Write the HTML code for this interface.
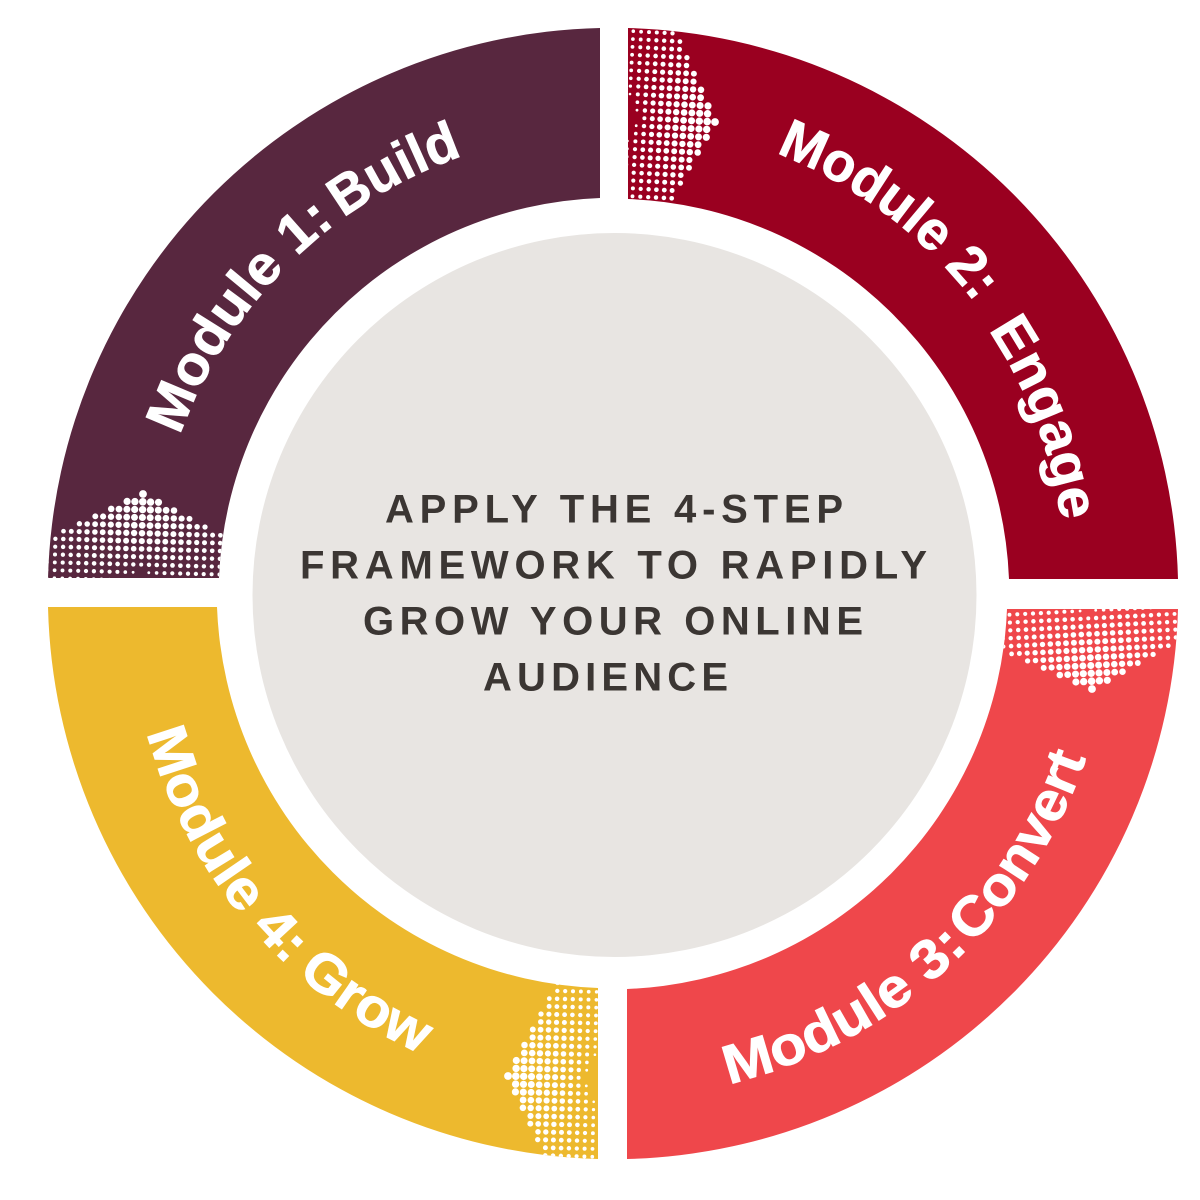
<!DOCTYPE html>
<html><head><meta charset="utf-8"><style>
html,body{margin:0;padding:0;background:#fff}
svg{display:block}
text{font-family:"Liberation Sans",sans-serif;font-weight:700}
.m{fill:#fff;stroke:#fff;stroke-width:.8px;font-size:55px}
.c{fill:#3b3633;font-size:40px}
</style></head><body>
<svg id="s" width="1200" height="1200" viewBox="0 0 1200 1200" xmlns="http://www.w3.org/2000/svg">
<defs>
<clipPath id="c1"><path d="M48 578A565.5 565.5 0 0 1 600 28V198A396 396 0 0 0 219 578Z"/></clipPath>
<clipPath id="c2"><path d="M628 28A565.5 565.5 0 0 1 1178 579H1009A396 396 0 0 0 628 199Z"/></clipPath>
<clipPath id="c3"><path d="M1178 609A565.5 565.5 0 0 1 627 1159V989A396 396 0 0 0 1007 609Z"/></clipPath>
<clipPath id="c4"><path d="M598 1159A565.5 565.5 0 0 1 48 607H217A396 396 0 0 0 598 988Z"/></clipPath>
<path id="t1" d="M180 435.5A462 462 0 0 1 574 132"/>
<path id="t2" d="M776 153A462 462 0 0 1 1070 583.7"/>
<path id="t2b" d="M771 155.5A462 462 0 0 1 1066 586.2"/>
<path id="t3" d="M729 1084A504 504 0 0 0 1111.5 638"/>
<path id="t4" d="M147 733A495 495 0 0 0 497 1081"/>
</defs>
<path fill="#58273f" d="M48 578A565.5 565.5 0 0 1 600 28V198A396 396 0 0 0 219 578Z"/>
<path fill="#9a0020" d="M628 28A565.5 565.5 0 0 1 1178 579H1009A396 396 0 0 0 628 199Z"/>
<path fill="#ef474b" d="M1178 609A565.5 565.5 0 0 1 627 1159V989A396 396 0 0 0 1007 609Z"/>
<path fill="#edb92e" d="M598 1159A565.5 565.5 0 0 1 48 607H217A396 396 0 0 0 598 988Z"/>
<circle cx="614.5" cy="595" r="362" fill="#e8e5e2"/>
<g id="d1" clip-path="url(#c1)" fill="#fff"></g>
<g id="d2" clip-path="url(#c2)" fill="#fff"></g>
<g id="d3" clip-path="url(#c3)" fill="#fff"></g>
<g id="d4" clip-path="url(#c4)" fill="#fff"></g>
<text class="m"><textPath href="#t1" textLength="266" lengthAdjust="spacingAndGlyphs">Module 1:</textPath></text>
<text class="m"><textPath href="#t1" startOffset="276" textLength="135" lengthAdjust="spacingAndGlyphs">Build</textPath></text>
<text class="m"><textPath href="#t2" textLength="252" lengthAdjust="spacingAndGlyphs">Module 2:</textPath></text>
<text class="m"><textPath href="#t2b" startOffset="283" textLength="206" lengthAdjust="spacingAndGlyphs">Engage</textPath></text>
<text class="m"><textPath href="#t3" textLength="279" lengthAdjust="spacingAndGlyphs">Module 3:</textPath></text>
<text class="m"><textPath href="#t3" startOffset="284" textLength="220" lengthAdjust="spacingAndGlyphs">Convert</textPath></text>
<text class="m"><textPath href="#t4" textLength="275" lengthAdjust="spacingAndGlyphs">Module 4:</textPath></text>
<text class="m"><textPath href="#t4" startOffset="288" textLength="147" lengthAdjust="spacingAndGlyphs">Grow</textPath></text>
<text class="c" x="385" y="522.5" textLength="458" lengthAdjust="spacing">APPLY THE 4-STEP</text>
<text class="c" x="300" y="578.5" textLength="627" lengthAdjust="spacing">FRAMEWORK TO RAPIDLY</text>
<text class="c" x="363" y="634.5" textLength="500" lengthAdjust="spacing">GROW YOUR ONLINE</text>
<text class="c" x="483" y="690.5" textLength="245" lengthAdjust="spacing">AUDIENCE</text>
</svg>
<script>
(function(){
var P=[["d1",143,494,-88.5],["d2",715,122,3],["d3",1092,689,87],["d4",508,1076,181.5]];
var N="http://www.w3.org/2000/svg",G=7.85,W=76;
P.forEach(function(p){
  var g=document.getElementById(p[0]),a=p[3]*Math.PI/180,c=Math.cos(a),n=Math.sin(a);
  for(var i=0;i<20;i++)for(var j=-16;j<=16;j++){
    var s=i*G,v=j*G,e=Math.abs(v)*0.48;
    if(s<e-1.5)continue;
    var d=Math.max(s-e,0);
    if(d>W)continue;
    var t=Math.max(1-d/W,0.02);
    var f=Math.max(1-0.45*Math.abs(v)/90,0.3);
    var r=3.9*Math.pow(t,0.25)*f;
    if(r<0.35)continue;
    var x=p[1]-s*c-v*n,y=p[2]-s*n+v*c;
    var o=document.createElementNS(N,"circle");
    o.setAttribute("cx",x.toFixed(1));o.setAttribute("cy",y.toFixed(1));o.setAttribute("r",r.toFixed(2));
    g.appendChild(o);
  }
});
})();
</script>
</body></html>
